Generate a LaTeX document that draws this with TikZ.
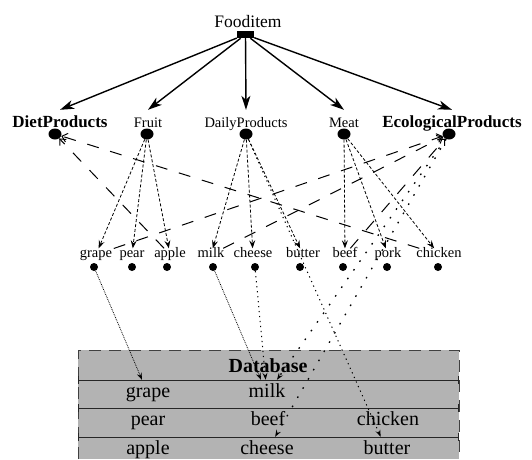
\documentclass[tikz,border=0pt]{standalone}
\usepackage{fontspec}
\setmainfont{Liberation Serif}
\usepackage{tikz}
\usetikzlibrary{arrows.meta,positioning,shapes.geometric}
\definecolor{dbfill}{HTML}{B3B3B3}
\tikzset{
  tr/.style={-{Stealth[length=14pt,width=9pt,inset=4pt]},line width=1.4pt},
  sub/.style={-{Stealth[length=8pt,width=6pt,inset=3pt]},densely dashed,line width=0.8pt},
  rel/.style={-{Straight Barb[length=5pt,width=9pt]},dash pattern=on 12pt off 12pt,line width=1pt},
  map/.style={-{Stealth[length=7pt,width=5pt,inset=2.5pt]},densely dotted,line width=0.8pt},
  lmap/.style={-{Stealth[length=7pt,width=5pt,inset=2.5pt]},dash pattern=on 1.2pt off 3.8pt,line width=1pt},
  far/.style={-{Stealth[length=7pt,width=5pt,inset=2.5pt]},dash pattern=on 1.6pt off 9pt,line width=1.3pt},
  catdot/.style={fill,ellipse,inner sep=0pt,minimum width=13pt,minimum height=11pt},
  leafdot/.style={fill,circle,inner sep=0pt,minimum size=8pt},
  cat/.style={anchor=base,font=\fontsize{14.5}{16}\selectfont,text height=11pt,text depth=3pt,inner xsep=1pt,inner ysep=6pt},
  leaf/.style={anchor=base,font=\fontsize{14.5}{16}\selectfont,text height=7pt,text depth=2pt,inner sep=1.5pt},
  cell/.style={font=\fontsize{20}{22}\selectfont,text height=10pt,text depth=4pt,minimum height=28pt,inner sep=0pt},
  dbedge/.style={dash pattern=on 12pt off 8pt,line width=1pt,black!75},
  row/.style={{Bar[width=8pt]}-{Bar[width=8pt]},line width=1pt,black!85}
}
\begin{document}
\begin{tikzpicture}[x=1pt,y=-1pt]
\useasboundingbox (0,0) rectangle (532,459);
\fill[dbfill] (78,350) rectangle (459,459);
\draw[dbedge] (78,459)--(78,350)--(459,350)--(459,459);
\foreach \y in {380,408,437} \draw[row] (78,\y)--(459,\y);
\node[anchor=base,font=\fontsize{20}{22}\selectfont\bfseries] (dbtitle) at (268,372) {Database};
\node[cell] (cgrape) at (148,394) {grape};
\node[cell] (cmilk) at (267,394) {milk};
\node[cell] (cpear) at (148,422.5) {pear};
\node[cell] (cbeef) at (268,422.5) {beef};
\node[cell] (cchicken) at (388,422.5) {chicken};
\node[cell] (capple) at (148,451) {apple};
\node[cell] (ccheese) at (267,451) {cheese};
\node[cell] (cbutter) at (387,451) {butter};

\node[fill,minimum width=17pt,minimum height=7pt,inner sep=0pt] (root) at (245.5,34.5) {};
\node[anchor=base,font=\fontsize{17.5}{20}\selectfont] (rootlbl) at (248,27) {Fooditem};
\node[cat,font=\fontsize{17}{20}\selectfont\bfseries] (diet) at (60,127) {DietProducts};
\node[cat] (fruit) at (148,127) {Fruit};
\node[cat] (daily) at (246,127) {DailyProducts};
\node[cat] (meat) at (344,127) {Meat};
\node[cat,font=\fontsize{17}{20}\selectfont\bfseries] (eco) at (452,127) {EcologicalProducts};
\foreach \n/\x in {dietd/55,fruitd/147,dailyd/246,meatd/344,ecod/449}
  \node[catdot] (\n) at (\x,134) {};
\foreach \n/\x in {grape/96,pear/132,apple/170,milk/211,cheese/253,butter/303,beef/345,pork/388,chicken/439}
  \node[leaf] (\n) at (\x,257) {\n};
\foreach \n/\x in {grape/94,pear/132,apple/167,milk/213,cheese/255,butter/300,beef/343,pork/387,chicken/438}
  \node[leafdot] (\n-d) at (\x,267) {};

\foreach \c in {diet,fruit,daily,meat,eco}
  \draw[tr] (root) -- (\c.north);
\foreach \c/\l in {fruitd/grape,fruitd/pear,fruitd/apple,dailyd/milk,dailyd/cheese,dailyd/butter,meatd/beef,meatd/pork,meatd/chicken}
  \draw[sub] (\c) -- (\l);
\draw[rel] (chicken) -- (dietd);
\draw[rel] (apple) -- (dietd);
\draw[rel] (grape) -- (ecod);
\draw[rel] (milk) -- (ecod);
\draw[rel] (beef) -- (ecod);
\draw[map] (grape-d) -- (cgrape);
\draw[map] (milk-d) -- (cmilk);
\draw[lmap] (cheese-d) -- (cmilk);
\draw[lmap] (dailyd) -- (cbutter);
\draw[far] (ecod) -- (cmilk);
\draw[far] (ecod) -- (ccheese);
\end{tikzpicture}
\end{document}
